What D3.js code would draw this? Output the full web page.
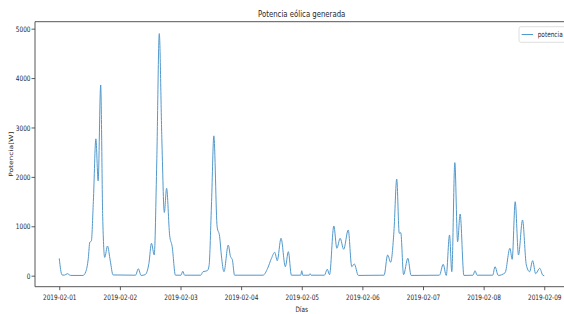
<html>
<head>
  <meta charset="UTF-8">
  <title>Potencia eólica generada</title>
  <script src="https://d3js.org/d3.v7.min.js"></script>
  <style>
    body { margin: 0; background: white; }
    text { font-family: "DejaVu Sans", sans-serif; fill: #262626; }
  </style>
</head>
<body>
<svg></svg>
<script>

  // Data (hours since 2019-02-01 00:00 and power in W)
  const horas = [0, 1.1, 2, 3.2, 4.5, 9.4, 10.5, 11.5, 12.1, 12.7, 13.5, 14.5, 15.4, 16.4, 17.2, 18, 19.1, 20.2, 21.3,
                 30.2, 31.3, 32.4, 34, 35.5, 36.5, 37.6, 38.6, 39.6, 40.6, 41.6, 42.5, 43.7, 44.7, 46,
                 48.2, 48.9, 49.6, 56, 56.9, 58.6, 59.3, 60.3, 61.2, 62.5, 63.5, 64.2, 65.2, 66.9, 67.8, 68.5, 69.4,
                 80.7, 82.5, 84, 85.3, 86.3, 87.8, 89.5, 90.7, 91.9,
                 95.6, 96, 96.4, 99, 99.3, 99.7, 105, 106.1, 107, 108.7, 109.9, 111.2, 112.6, 114.4, 115.8, 116.8, 118.4,
                 128.6, 130, 131.2, 132.5, 133.6, 134.6, 135.2, 136.3, 138, 139.3,
                 150.5, 152, 153.2, 154.5, 155.4, 156.6, 157.7, 158.7, 160.2, 163.8, 164.6, 165.4,
                 171.6, 172.5, 173.8, 176.5, 178.4, 179.3, 180.5, 181.8, 183.4, 184.9, 186.2, 187.4, 188.6, 190.2, 191.5, 192];
  const potencia = [350, 15, 10, 40, 5, 5, 80, 350, 680, 700, 1500, 2770, 1920, 3860, 1200, 370, 600, 300, 15,
                    10, 140, 5, 20, 250, 655, 420, 2300, 4900, 2800, 1280, 1770, 820, 590, 10,
                    10, 90, 10, 10, 80, 100, 200, 1500, 2830, 990, 790, 400, 80, 620, 385, 330, 10,
                    10, 150, 350, 473, 304, 757, 182, 486, 10,
                    10, 100, 10, 10, 40, 10, 10, 130, 20, 1006, 555, 757, 534, 925, 182, 237, 5,
                    10, 419, 271, 900, 1957, 858, 870, 20, 352, 5,
                    10, 230, 5, 824, 80, 2288, 688, 1249, 5, 10, 100, 10,
                    10, 182, 5, 60, 555, 331, 1498, 419, 1128, 217, 80, 304, 40, 150, 5, 0];

  const fechasTicks = ["2019-02-01", "2019-02-02", "2019-02-03", "2019-02-04", "2019-02-05",
                       "2019-02-06", "2019-02-07", "2019-02-08", "2019-02-09"];
  const potenciaTicks = [0, 1000, 2000, 3000, 4000, 5000];

  // Setup

  const width = 564;
  const height = 314;
  const axLeft = 35, axRight = 568.5, axTop = 21.7, axBottom = 286.7;
  const squeeze = 0.77;   // the picture's text is narrow

  const parse = d3.timeParse("%Y-%m-%d");
  const inicio = parse("2019-02-01");
  const data = horas.map((h, i) => ({ fecha: new Date(inicio.getTime() + h * 3600e3), valor: potencia[i] }));

  let svg = d3.select("svg")
              .attr("width", width)
              .attr("height", height);

  // Scale setup (matplotlib style 5% margins)

  const pad = 9.6 * 3600e3;
  const xScale = d3.scaleTime()
                   .domain([new Date(inicio.getTime() - pad), new Date(inicio.getTime() + 192 * 3600e3 + pad)])
                   .range([axLeft, axRight]);
  const yScale = d3.scaleLinear().domain([-223, 5141]).range([axBottom, axTop]);

  // Axis setup

  let bottomAxis = d3.axisBottom(xScale)
                     .tickValues(fechasTicks.map(parse))
                     .tickFormat(d3.timeFormat("%Y-%m-%d"))
                     .tickSize(3.5).tickSizeOuter(0);
  let xAxis = svg.append("g")
                 .attr("transform", `translate(0, ${axBottom})`)
                 .call(bottomAxis);
  xAxis.selectAll("text")
       .attr("y", 0).attr("dy", 0)
       .attr("transform", `translate(0, 13.5) scale(${squeeze}, 1)`)
       .style("font-size", "7.5px");

  let leftAxis = d3.axisLeft(yScale)
                   .tickValues(potenciaTicks)
                   .tickFormat(d3.format("d"))
                   .tickSize(3.5).tickSizeOuter(0);
  let yAxis = svg.append("g")
                 .attr("transform", `translate(${axLeft}, 0)`)
                 .call(leftAxis);
  yAxis.selectAll("text")
       .attr("x", 0).attr("dy", "0.35em")
       .attr("transform", `translate(-4.5, 0) scale(${squeeze}, 1)`)
       .style("font-size", "7.5px");

  svg.selectAll(".domain").remove();
  svg.selectAll(".tick line").attr("stroke", "#333").attr("stroke-width", 0.8);
  svg.selectAll(".tick text").attr("fill", "#262626").style("font-family", "DejaVu Sans");

  // Spines

  svg.append("path")
     .attr("d", `M${axLeft},${axBottom}V${axTop}H${axRight}V${axBottom}Z`)
     .attr("fill", "none")
     .attr("stroke", "#444")
     .attr("stroke-width", 0.9);

  // Plotting

  let line = d3.line()
               .x(d => xScale(d.fecha))
               .y(d => yScale(d.valor))
               .curve(d3.curveMonotoneX);

  svg.append("path")
     .datum(data)
     .attr("d", line)
     .attr("fill", "none")
     .attr("stroke", "#5299cc")
     .attr("stroke-width", 1);

  // Labels

  svg.append("text")
     .attr("transform", `translate(301.7, 16.5) scale(${squeeze}, 1)`)
     .attr("text-anchor", "middle")
     .style("font-size", "9px")
     .text("Potencia eólica generada");

  svg.append("text")
     .attr("transform", `translate(301.7, 312.3) scale(${squeeze}, 1)`)
     .attr("text-anchor", "middle")
     .style("font-size", "7.5px")
     .text("Días");

  svg.append("text")
     .attr("transform", `translate(12.5, 154.2) scale(${squeeze}, 1) rotate(-90)`)
     .attr("text-anchor", "middle")
     .style("font-size", "7.5px")
     .text("Potencia[W]");

  // Legend

  let legend = svg.append("g");
  legend.append("rect")
        .attr("x", 519).attr("y", 26.7)
        .attr("width", 60).attr("height", 15.6)
        .attr("rx", 2)
        .attr("fill", "white")
        .attr("stroke", "#d6d6d6")
        .attr("stroke-width", 0.8);
  legend.append("line")
        .attr("x1", 521.7).attr("x2", 533)
        .attr("y1", 34.5).attr("y2", 34.5)
        .attr("stroke", "#5299cc")
        .attr("stroke-width", 1);
  legend.append("text")
        .attr("transform", `translate(537.7, 37.3) scale(${squeeze}, 1)`)
        .style("font-size", "7.5px")
        .text("potencia");

</script>
</body>
</html>
